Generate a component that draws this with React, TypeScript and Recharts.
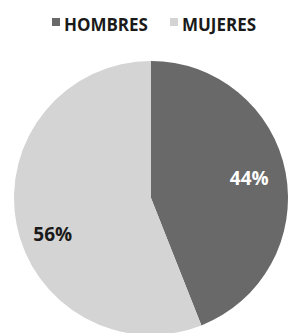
import React from 'react';
import { PieChart, Pie, Cell, Legend } from 'recharts';

const categories = ['HOMBRES', 'MUJERES'];
const shares = [44, 56];
const colors = ['#696969', '#d4d4d4'];
const labelColors = ['#ffffff', '#1a1a1a'];

const data = categories.map((name, i) => ({ name, value: shares[i] }));

const RADIAN = Math.PI / 180;

function renderLabel(props: any) {
  const { cx, cy, midAngle, outerRadius, index, value } = props;
  const r = outerRadius * 0.73;
  const x = cx + r * Math.cos(-midAngle * RADIAN);
  const y = cy + r * Math.sin(-midAngle * RADIAN) + (index === 1 ? 17 : -1);
  return (
    <text
      x={x}
      y={y}
      fill={labelColors[index]}
      textAnchor="middle"
      dominantBaseline="central"
      fontSize={19}
      fontWeight="bold"
      fontFamily="Open Sans, sans-serif"
    >
      {value}%
    </text>
  );
}

function LegendContent() {
  return (
    <div
      style={{
        display: 'flex',
        justifyContent: 'center',
        gap: 22,
        fontFamily: 'Open Sans, sans-serif',
        fontWeight: 'bold',
        fontSize: 17,
        lineHeight: '22px',
        color: '#1a1a1a',
      }}
    >
      {categories.map((c, i) => (
        <div key={c} style={{ display: 'flex', alignItems: 'center' }}>
          <span
            style={{
              display: 'inline-block',
              width: 8,
              height: 8,
              background: colors[i],
              marginRight: 4,
              marginTop: -6,
            }}
          />
          {c}
        </div>
      ))}
    </div>
  );
}

export default function App() {
  return (
    <div style={{ position: 'absolute', left: 0, top: 0, background: '#fff' }}>
      <PieChart width={288} height={333} margin={{ top: 0, right: 0, bottom: 0, left: 0 }}>
        <Legend
          verticalAlign="top"
          align="center"
          height={22}
          wrapperStyle={{ top: 14, left: 10, width: 288 }}
          content={<LegendContent />}
        />
        <Pie
          data={data}
          dataKey="value"
          nameKey="name"
          cx={151}
          cy={176}
          outerRadius={137}
          startAngle={90}
          endAngle={-270}
          stroke="none"
          labelLine={false}
          label={renderLabel}
          isAnimationActive={false}
        >
          {data.map((d, i) => (
            <Cell key={d.name} fill={colors[i]} />
          ))}
        </Pie>
      </PieChart>
    </div>
  );
}
